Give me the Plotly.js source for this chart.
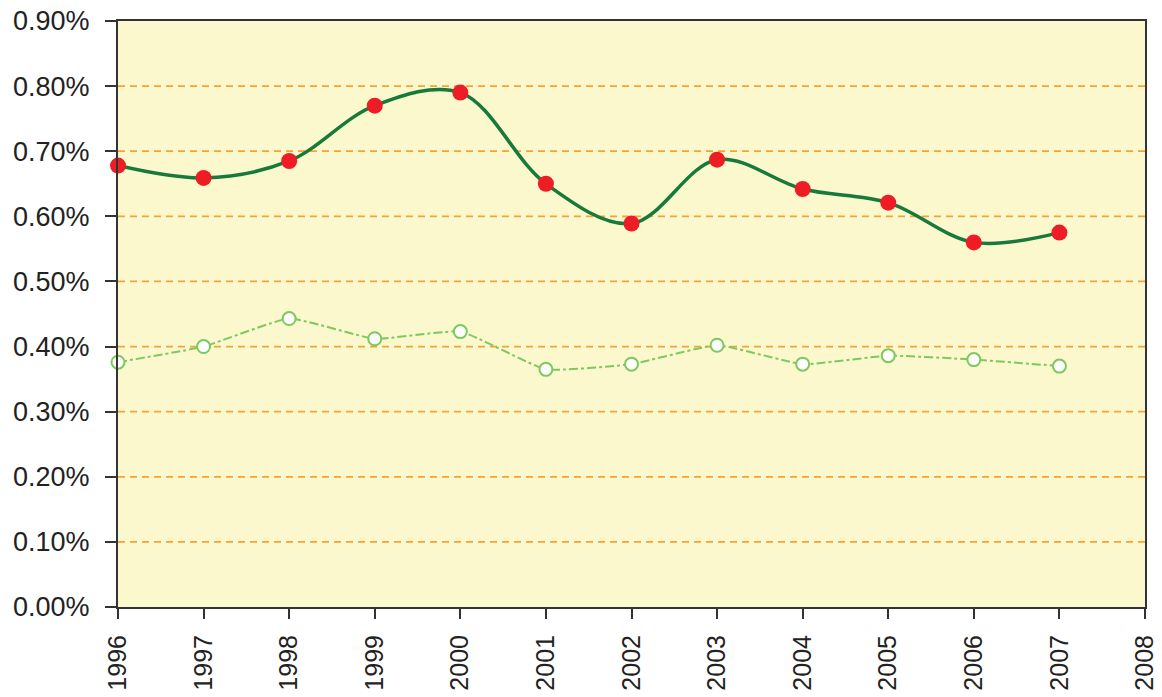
<!DOCTYPE html>
<html>
<head>
<meta charset="utf-8">
<script src="https://cdn.plot.ly/plotly-3.0.1.min.js"></script>
<style>html,body{margin:0;padding:0;background:#fff;}#chart{width:1162px;height:697px;}</style>
</head>
<body>
<div id="chart"></div>
<script>
var years = [1996, 1997, 1998, 1999, 2000, 2001, 2002, 2003, 2004, 2005, 2006, 2007];
var seriesA = [0.678, 0.659, 0.685, 0.770, 0.790, 0.650, 0.589, 0.687, 0.642, 0.621, 0.560, 0.575];
var seriesB = [0.376, 0.400, 0.443, 0.412, 0.423, 0.365, 0.373, 0.402, 0.373, 0.386, 0.380, 0.370];
var yTicks = [0, 0.1, 0.2, 0.3, 0.4, 0.5, 0.6, 0.7, 0.8, 0.9];
var yTickLabels = ["0.00%", "0.10%", "0.20%", "0.30%", "0.40%", "0.50%", "0.60%", "0.70%", "0.80%", "0.90%"];
var xTicks = [1996, 1997, 1998, 1999, 2000, 2001, 2002, 2003, 2004, 2005, 2006, 2007, 2008];

var gridVals = yTicks.filter(function(v){ return v > 0 && v < 0.9; });
var shapes = gridVals.map(function(v){
  return {type:'line', xref:'paper', x0:0, x1:1, yref:'y', y0:v, y1:v,
          line:{color:'#F7A235', width:1.8, dash:'7px,5px'}, layer:'below'};
});

var traceB = {
  x: years, y: seriesB, type:'scatter', mode:'lines+markers',
  line:{color:'#7DC95E', width:2, dash:'dashdot', shape:'spline', smoothing:0.4},
  marker:{symbol:'circle', size:13, color:'#FFFFFF', line:{color:'#7DC95E', width:2}},
  showlegend:false, cliponaxis:false
};
var traceA = {
  x: years, y: seriesA, type:'scatter', mode:'lines+markers',
  line:{color:'#177A3A', width:3.5, shape:'spline', smoothing:1},
  marker:{symbol:'circle', size:16, color:'#EE1C25'},
  showlegend:false, cliponaxis:false
};

var layout = {
  width:1162, height:697,
  margin:{l:118, r:17, t:21, b:90},
  paper_bgcolor:'#FFFFFF',
  plot_bgcolor:'#FBF8CE',
  font:{family:'Liberation Sans, Arial, sans-serif', size:26, color:'#222222'},
  xaxis:{
    range:[1996, 2008], tickvals:xTicks, ticktext:xTicks.map(String),
    tickangle:-90, ticks:'outside', ticklen:10, tickwidth:2, tickcolor:'#333333',
    ticklabelstandoff:6,
    showline:true, linecolor:'#333333', linewidth:2, mirror:true,
    showgrid:false, zeroline:false, fixedrange:true,
    tickfont:{size:25, color:'#222222'}
  },
  yaxis:{
    range:[0, 0.9], tickvals:yTicks, ticktext:yTickLabels,
    ticks:'outside', ticklen:11, tickwidth:2, tickcolor:'#333333',
    ticklabelstandoff:10,
    showline:true, linecolor:'#333333', linewidth:2, mirror:true,
    showgrid:false, zeroline:false, fixedrange:true,
    tickfont:{size:27, color:'#222222'}
  },
  shapes: shapes
};

Plotly.newPlot('chart', [traceB, traceA], layout, {displayModeBar:false, staticPlot:true});
</script>
</body>
</html>
